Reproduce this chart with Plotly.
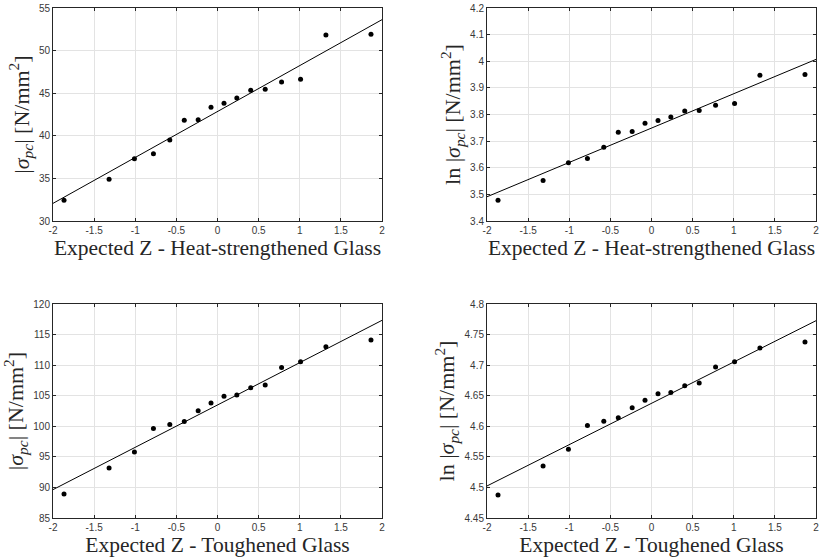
import plotly.graph_objects as go

# Expected Z (normal scores) shared by all panels
z_vals = [-1.866, -1.318, -1.010, -0.779, -0.580, -0.404, -0.235, -0.079,
          0.079, 0.235, 0.404, 0.580, 0.779, 1.010, 1.318, 1.866]

# Heat-strengthened glass |sigma_pc| [N/mm^2]
hs_sigma = [32.43, 34.89, 37.32, 37.90, 39.51, 41.82, 41.89, 43.34,
            43.81, 44.44, 45.34, 45.45, 46.31, 46.63, 51.83, 51.91]
hs_ln = [3.478, 3.552, 3.619, 3.635, 3.677, 3.733, 3.736, 3.767,
         3.777, 3.791, 3.813, 3.815, 3.835, 3.841, 3.947, 3.950]

# Toughened glass
tg_sigma = [88.93, 93.19, 95.81, 99.64, 100.29, 100.78, 102.53, 103.79,
            104.93, 105.10, 106.30, 106.74, 109.63, 110.56, 113.02, 114.11]
tg_ln = [4.4877, 4.5352, 4.5625, 4.6013, 4.6083, 4.6138, 4.6302, 4.6427,
         4.6531, 4.6553, 4.6662, 4.6706, 4.6968, 4.7055, 4.7279, 4.7377]

# Fitted line end points at Z = -2 and Z = 2
fit_x = [-2, 2]
hs_sigma_fit = [32.07, 53.63]
hs_ln_fit = [3.491, 4.007]
tg_sigma_fit = [89.64, 117.33]
tg_ln_fit = [4.5024, 4.7727]

x_ticks = [-2, -1.5, -1, -0.5, 0, 0.5, 1, 1.5, 2]
x_ticktext = ["-2", "-1.5", "-1", "-0.5", "0", "0.5", "1", "1.5", "2"]

panels = [
    dict(y=hs_sigma, fit=hs_sigma_fit, yr=[30, 55], dt=5,
         ytitle="|<i>σ</i><sub><i>pc</i></sub>| [N/mm<sup>2</sup>]",
         xtitle="Expected Z - Heat-strengthened Glass"),
    dict(y=hs_ln, fit=hs_ln_fit, yr=[3.4, 4.2], dt=0.1,
         ytitle="ln |<i>σ</i><sub><i>pc</i></sub>| [N/mm<sup>2</sup>]",
         xtitle="Expected Z - Heat-strengthened Glass"),
    dict(y=tg_sigma, fit=tg_sigma_fit, yr=[85, 120], dt=5,
         ytitle="|<i>σ</i><sub><i>pc</i></sub>| [N/mm<sup>2</sup>]",
         xtitle="Expected Z - Toughened Glass"),
    dict(y=tg_ln, fit=tg_ln_fit, yr=[4.45, 4.8], dt=0.05,
         ytitle="ln |<i>σ</i><sub><i>pc</i></sub>| [N/mm<sup>2</sup>]",
         xtitle="Expected Z - Toughened Glass"),
]

W, H = 820, 559
xdoms = [[53 / W, 382 / W], [487 / W, 816 / W]]
ydoms = [[1 - 221 / H, 1 - 8 / H], [1 - 518 / H, 1 - 304 / H]]

fig = go.Figure()
axcol = "#262626"
gridcol = "#e3e3e3"
tickfont = dict(family="Liberation Sans, Arial, sans-serif", size=10, color="#383838")
xtitlefont = dict(family="Liberation Serif, DejaVu Serif, serif", size=21.5, color="#262626")
ytitlefont = dict(family="Liberation Serif, DejaVu Serif, serif", size=22, color="#262626")

for i, p in enumerate(panels):
    r, c = divmod(i, 2)
    n = i + 1
    xa = "x" if n == 1 else f"x{n}"
    ya = "y" if n == 1 else f"y{n}"
    fig.add_trace(go.Scatter(x=fit_x, y=p["fit"], mode="lines",
                             line=dict(color="black", width=1),
                             xaxis=xa, yaxis=ya, showlegend=False))
    fig.add_trace(go.Scatter(x=z_vals, y=p["y"], mode="markers",
                             marker=dict(color="black", size=5),
                             xaxis=xa, yaxis=ya, showlegend=False))
    xkey = "xaxis" if n == 1 else f"xaxis{n}"
    ykey = "yaxis" if n == 1 else f"yaxis{n}"
    fig.layout[xkey] = dict(
        domain=xdoms[c], anchor=ya, range=[-2, 2],
        tickmode="array", tickvals=x_ticks, ticktext=x_ticktext,
        showgrid=True, gridcolor=gridcol, gridwidth=1,
        zeroline=False, showline=True, linecolor=axcol, linewidth=1,
        mirror="ticks", ticks="inside", ticklen=3, tickcolor=axcol,
        tickfont=tickfont,
        title=dict(text=p["xtitle"], font=xtitlefont, standoff=1),
        automargin=False,
    )
    fig.layout[ykey] = dict(
        domain=ydoms[r], anchor=xa, range=p["yr"], dtick=p["dt"], tick0=p["yr"][0],
        showgrid=True, gridcolor=gridcol, gridwidth=1,
        zeroline=False, showline=True, linecolor=axcol, linewidth=1,
        mirror="ticks", ticks="inside", ticklen=3, tickcolor=axcol,
        tickfont=tickfont,
        title=dict(text=p["ytitle"], font=ytitlefont, standoff=3),
        automargin=False,
    )

fig.update_layout(width=W, height=H, margin=dict(l=0, r=0, t=0, b=0),
                  paper_bgcolor="white", plot_bgcolor="white")
fig.write_html("out.html")
